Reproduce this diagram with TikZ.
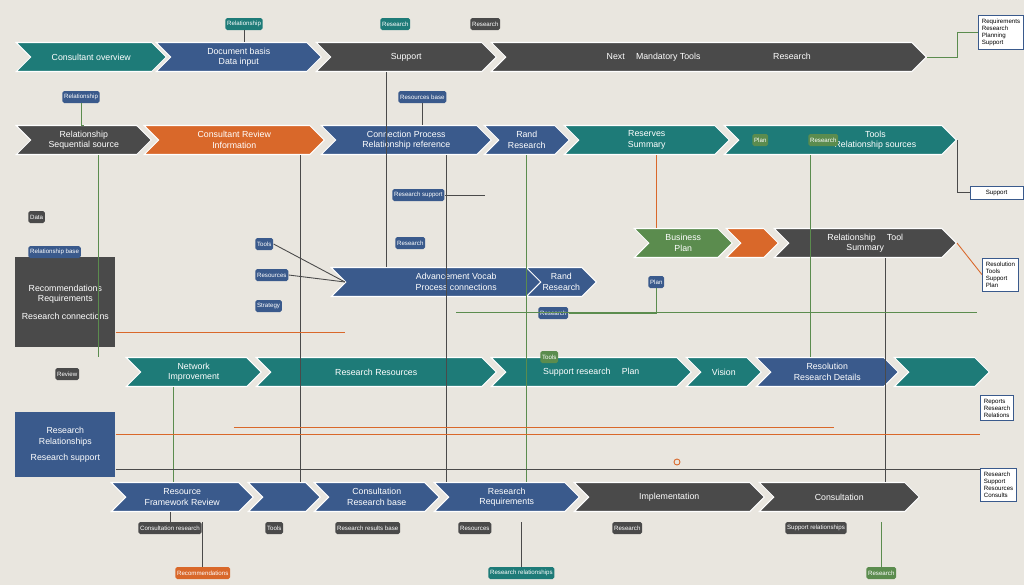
\documentclass[tikz,border=0pt]{standalone}
\usepackage{fontspec}
\setmainfont{Liberation Sans}
\usetikzlibrary{shapes.symbols,positioning}
\definecolor{bgc}{HTML}{E9E6DF}
\definecolor{tealc}{HTML}{1E7B78}
\definecolor{bluec}{HTML}{3A5A8C}
\definecolor{greyc}{HTML}{4A4A4A}
\definecolor{orangec}{HTML}{D9682A}
\definecolor{greenc}{HTML}{5B8C4E}
\tikzset{
  chev/.style={signal, signal to=east, signal from=west, draw=white, line width=0.6pt,
    minimum height=0.58cm, inner sep=1pt, text=white, font=\tiny, align=center, anchor=west},
  tag/.style={rounded corners=1pt, minimum height=0.24cm, inner sep=1pt, text=white,
    font=\fontsize{3.5}{4}\selectfont, anchor=west},
  note/.style={draw=bluec, fill=white, font=\fontsize{3.5}{4}\selectfont, align=left, anchor=north west, inner sep=2pt},
  wire/.style={line width=0.5pt},
}
\newcommand\chv[5]{\node[chev, fill=#4, minimum width=#3*0.02cm] (#1) at (#2) {#5};}
\begin{document}
\begin{tikzpicture}[x=0.02cm, y=-0.02cm]
\useasboundingbox (0,0) rectangle (1024,585);
\fill[bgc] (0,0) rectangle (1024,585);
% row 1
\chv{ra}{30,57}{150}{tealc}{Consultant overview}
\chv{rb}{170,57}{165}{bluec}{Document basis \\ Data input}
\chv{rc}{330,57}{180}{greyc}{Support}
\chv{rd}{505,57}{435}{greyc}{Next \quad Mandatory Tools \qquad\qquad\qquad\qquad Research}
% row 2
\chv{sa}{30,140}{135}{greyc}{Relationship \\ Sequential source}
\chv{sb}{158,140}{180}{orangec}{Consultant Review \\ Information}
\chv{sc}{335,140}{170}{bluec}{Connection Process \\ Relationship reference}
\chv{sd}{498,140}{85}{bluec}{Rand \\ Research}
\chv{se}{578,140}{165}{tealc}{Reserves \\ Summary}
\chv{sf}{738,140}{232}{tealc}{\qquad\qquad\qquad\qquad Tools \\ \qquad\qquad\qquad\qquad Relationship sources}
% row 3
\chv{ta}{345,282}{250}{bluec}{Advancement Vocab \\ Process connections}
\chv{tb}{540,282}{60}{bluec}{Rand \\ Research}
\chv{tc}{648,243}{98}{greenc}{Business \\ Plan}
\chv{td}{740,243}{52}{orangec}{}
\chv{te}{788,243}{182}{greyc}{Relationship \quad Tool \\ Summary}
% row 4
\chv{ua}{140,372}{135}{tealc}{Network \\ Improvement}
\chv{ub}{270,372}{240}{tealc}{Research Resources}
\chv{uc}{505,372}{200}{tealc}{Support research \quad Plan}
\chv{ud}{700,372}{75}{tealc}{Vision}
\chv{ue}{770,372}{142}{bluec}{Resolution \\ Research Details}
\chv{uf}{908,372}{95}{tealc}{}
% row 5
\chv{va}{125,497}{142}{bluec}{Resource \\ Framework Review}
\chv{vb}{262,497}{72}{bluec}{}
\chv{vc}{328,497}{125}{bluec}{Consultation \\ Research base}
\chv{vd}{448,497}{145}{bluec}{Research \\ Requirements}
\chv{ve}{588,497}{190}{greyc}{Implementation}
\chv{vf}{773,497}{160}{greyc}{Consultation}
% side boxes
\node[fill=greyc, text=white, font=\tiny, minimum width=2cm, minimum height=1.8cm, anchor=north west, align=center] (la) at (15,257) {Recommendations \\ Requirements \\[4pt] Research connections};
\node[fill=bluec, text=white, font=\tiny, minimum width=2cm, minimum height=1.3cm, anchor=north west, align=center] (lb) at (15,412) {Research \\ Relationships \\[3pt] Research support};
\node[note] (na) at (978,15) {Requirements \\ Research \\ Planning \\ Support};
\node[note] (nb) at (982,258) {Resolution \\ Tools \\ Support \\ Plan};
\node[note] (nc) at (980,395) {Reports \\ Research \\ Relations};
\node[note] (nd) at (980,468) {Research \\ Support \\ Resources \\ Consults};
\node[note, minimum width=1.05cm] (ne) at (970,186) {Support};
% tags
\node[tag, fill=bluec] (ga) at (62,97) {Relationship};
\node[tag, fill=bluec] (gb) at (398,97) {Resources base};
\node[tag, fill=bluec] (gc) at (392,195) {Research support};
\node[tag, fill=bluec] (gd) at (255,244) {Tools};
\node[tag, fill=bluec] (ge) at (395,243) {Research};
\node[tag, fill=bluec] (gf) at (255,275) {Resources};
\node[tag, fill=bluec] (gg) at (255,306) {Strategy};
\node[tag, fill=bluec] (gh) at (538,313) {Research};
\node[tag, fill=bluec] (gi) at (648,282) {Plan};
\node[tag, fill=bluec] (gj) at (28,252) {Relationship base};
\node[tag, fill=greyc] (gk) at (28,217) {Data};
\node[tag, fill=greyc] (gl) at (55,374) {Review};
\node[tag, fill=greyc] (gm) at (470,24) {Research};
\node[tag, fill=tealc] (gn) at (225,24) {Relationship};
\node[tag, fill=tealc] (go) at (380,24) {Research};
\node[tag, fill=greenc] (gp) at (752,140) {Plan};
\node[tag, fill=greenc] (gq) at (808,140) {Research};
\node[tag, fill=greyc] (gr) at (138,528) {Consultation research};
\node[tag, fill=greyc] (gs) at (265,528) {Tools};
\node[tag, fill=greyc] (gt) at (335,528) {Research results base};
\node[tag, fill=greyc] (gu) at (458,528) {Resources};
\node[tag, fill=greyc] (gv) at (612,528) {Research};
\node[tag, fill=greyc] (gw) at (785,528) {Support relationships};
\node[tag, fill=orangec] (gx) at (175,573) {Recommendations};
\node[tag, fill=tealc] (gy) at (488,573) {Research relationships};
\node[tag, fill=greenc] (gz) at (866,573) {Research};
\node[tag, fill=greenc] (gzz) at (540,357) {Tools};
% connectors
\draw[wire, greyc] (sb.south east) ++(-10,0) coordinate (p1) -- (p1 |- va.north);
\draw[wire, greenc] (sa.south) ++(15,0) coordinate (p2) -- (p2 |- ua.north);
\draw[wire, greenc] (ua.south) ++(-20,0) coordinate (p3) -- (p3 |- va.north);
\draw[wire, greyc] (rc.south) ++(-20,0) coordinate (p4) -- (p4 |- ta.north);
\draw[wire, greyc] (sc.south) ++(40,0) coordinate (p5) -- (p5 |- vd.north);
\draw[wire, greenc] (sd.south) -- (sd.south |- ve.north);
\draw[wire, orangec] (se.south) ++(10,0) coordinate (p6) -- (p6 |- tc.north);
\draw[wire, greenc] (sf.south) ++(-30,0) coordinate (p7) -- (p7 |- uf.north);
\draw[wire, greyc] (te.south) ++(20,0) coordinate (p8) -- (p8 |- ve.north);
\draw[wire, orangec] (la.east) ++(0,30) coordinate (p9) -- (p9 -| ta.west);
\draw[wire, greenc] (gh.east) -| (gi.south);
\draw[wire, orangec] (lb.east) ++(0,-10) coordinate (q1) -- (q1 -| nc.west);
\draw[wire, greyc] (lb.east) ++(0,25) coordinate (q2) -- (q2 -| nd.west);
\draw[wire, greenc] (ta.south) ++(0,15) coordinate (q3) -- (q3 -| tb.east) -- ++(380,0);
\draw[wire, orangec] (te.east) -- (nb.west);
\draw[wire, greyc] (sf.east) |- (ne.west);
\draw[wire, greenc] (rd.east) -- ++(30,0) |- (na.west);
\draw[wire, greyc] (gd.east) -- (ta.west);
\draw[wire, greyc] (gf.east) -- (ta.west);
\draw[wire, greyc] (gc.east) -- ++(40,0);
\draw[wire, orangec] (ua.south) ++(40,40) coordinate (q4) -- ++(600,0);
\draw[wire, greenc] (ga.south) |- (sa.north);
\draw[wire, greyc] (gb.south) -- (gb.south |- sc.north);
\draw[wire, greyc] (gn.south) -- (gn.south |- ra.north);
\draw[wire, greyc] (gr.north) -- (gr.north |- va.south);
\draw[wire, greyc] (gx.north) -- ++(0,-45);
\draw[wire, greyc] (gy.north) -- ++(0,-45);
\draw[wire, greenc] (gz.north) -- ++(0,-45);
\draw[wire, orangec] (677,462) circle (3);
\end{tikzpicture}
\end{document}
